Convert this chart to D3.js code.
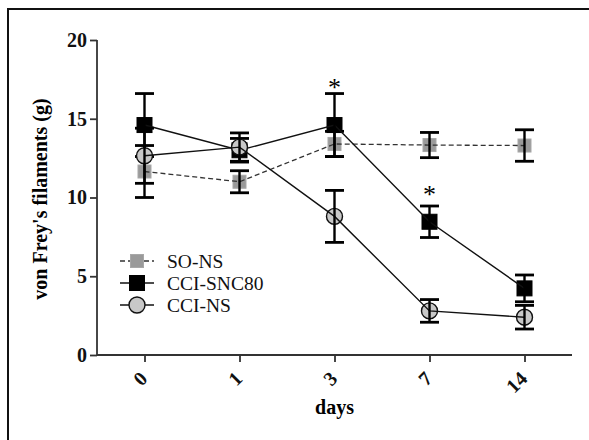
<!DOCTYPE html>
<html>
<head>
<meta charset="utf-8">
<script src="https://cdn.jsdelivr.net/npm/d3@7"></script>
<style>
  body { margin: 0; background: #fff; }
  text { font-family: "Liberation Serif", "Times New Roman", serif; }
</style>
</head>
<body>
<div id="chart"></div>
<script>
const width = 589;
const height = 440;

// data
const days = ["0", "1", "3", "7", "14"];
const soNS = [11.65, 11.0, 13.4, 13.33, 13.3];
const soNSErr = [1.65, 0.7, 0.8, 0.8, 1.0];
const cciSNC80 = [14.6, 13.0, 14.6, 8.46, 4.23];
const cciSNC80Err = [2.0, 0.75, 2.0, 1.0, 0.85];
const cciNS = [12.65, 13.2, 8.8, 2.8, 2.4];
const cciNSErr = [1.75, 0.9, 1.65, 0.72, 0.75];
const yTicks = [0, 5, 10, 15, 20];
const stars = [{ day: "3", value: 17.3 }, { day: "7", value: 10.5 }];

const series = [
  { name: "SO-NS", values: soNS, err: soNSErr, shape: "square", fill: "#9a9a9a", size: 13, dash: "5,3", stroke: "#333", strokeW: 1.3 },
  { name: "CCI-SNC80", values: cciSNC80, err: cciSNC80Err, shape: "square", fill: "#000", size: 15, dash: null, stroke: "#111", strokeW: 1.4 },
  { name: "CCI-NS", values: cciNS, err: cciNSErr, shape: "circle", fill: "#c8c8c8", size: 8, dash: null, stroke: "#111", strokeW: 1.4 }
];

const svg = d3.select("#chart").append("svg")
  .attr("width", width)
  .attr("height", height);

svg.append("rect").attr("width", width).attr("height", height).attr("fill", "#fff");

// cropped frame (top and left edges only)
svg.append("line").attr("x1", 7).attr("x2", width).attr("y1", 9).attr("y2", 9)
  .attr("stroke", "#111").attr("stroke-width", 2);
svg.append("line").attr("x1", 8).attr("x2", 8).attr("y1", 8).attr("y2", height)
  .attr("stroke", "#111").attr("stroke-width", 2);

const x = d3.scalePoint().domain(days).range([97, 572]).padding(0.5);
const y = d3.scaleLinear().domain([0, 20]).range([355, 40]);

// axes
const axisColor = "#333";
const gy = svg.append("g").attr("transform", "translate(97,0)")
  .call(d3.axisLeft(y).tickValues(yTicks).tickSize(7).tickSizeOuter(0).tickPadding(3));
const gx = svg.append("g").attr("transform", "translate(0,355)")
  .call(d3.axisBottom(x).tickSize(7).tickSizeOuter(0).tickFormat(""));

[gy, gx].forEach(g => {
  g.select(".domain").attr("stroke", axisColor).attr("stroke-width", 1.8);
  g.selectAll(".tick line").attr("stroke", axisColor).attr("stroke-width", 1.8);
});
gy.select(".domain").attr("d", "M0,40V355");
gx.select(".domain").attr("d", "M97,0H572");

gy.selectAll(".tick text")
  .attr("fill", "#111")
  .style("font-family", "Liberation Serif")
  .style("font-size", "20px")
  .style("font-weight", "bold");

// rotated x tick labels
svg.append("g").selectAll("text").data(days).enter().append("text")
  .attr("transform", d => `translate(${x(d) + 4},380) rotate(-45)`)
  .attr("text-anchor", "end")
  .style("font-size", "20px")
  .style("font-weight", "bold")
  .attr("fill", "#111")
  .text(d => d);

svg.append("text")
  .attr("x", x("3")).attr("y", 414)
  .attr("text-anchor", "middle")
  .style("font-size", "20px").style("font-weight", "bold")
  .text("days");

svg.append("text")
  .attr("transform", "translate(47,199) rotate(-90)")
  .attr("text-anchor", "middle")
  .style("font-size", "20px").style("font-weight", "bold")
  .text("von Frey's filaments (g)");

function drawMarker(g, s, cx, cy) {
  if (s.shape === "square") {
    g.append("rect")
      .attr("x", cx - s.size / 2).attr("y", cy - s.size / 2)
      .attr("width", s.size).attr("height", s.size)
      .attr("fill", s.fill)
      .attr("stroke", s.name === "SO-NS" ? "#a8a8a8" : "#000")
      .attr("stroke-width", 1);
  } else {
    g.append("circle")
      .attr("cx", cx).attr("cy", cy).attr("r", s.size)
      .attr("fill", s.fill).attr("stroke", "#111").attr("stroke-width", 1.4);
  }
}

const line = d3.line().x((d, i) => x(days[i])).y(d => y(d));

series.forEach(s => {
  const g = svg.append("g");
  // markers
  s.values.forEach((v, i) => drawMarker(g, s, x(days[i]), y(v)));
  // connecting line
  g.append("path")
    .datum(s.values)
    .attr("d", line)
    .attr("fill", "none")
    .attr("stroke", s.stroke)
    .attr("stroke-width", s.strokeW)
    .attr("stroke-dasharray", s.dash);
  // error bars
  s.values.forEach((v, i) => {
    const cx = x(days[i]);
    const top = y(v + s.err[i]);
    const bot = y(v - s.err[i]);
    g.append("line").attr("x1", cx).attr("x2", cx).attr("y1", top).attr("y2", bot)
      .attr("stroke", "#000").attr("stroke-width", 2.4);
    [top, bot].forEach(cy => {
      g.append("line").attr("x1", cx - 9.5).attr("x2", cx + 9.5).attr("y1", cy).attr("y2", cy)
        .attr("stroke", "#000").attr("stroke-width", 2.8);
    });
  });
});

// significance stars
svg.append("g").selectAll("text").data(stars).enter().append("text")
  .attr("x", d => x(d.day))
  .attr("y", d => y(d.value) + 13)
  .attr("text-anchor", "middle")
  .style("font-size", "26px")
  .text("*");

// legend
const legendY = [261, 283, 305];
const legend = svg.append("g");
series.forEach((s, i) => {
  const ly = legendY[i];
  legend.append("line").attr("x1", 120).attr("x2", 154).attr("y1", ly).attr("y2", ly)
    .attr("stroke", s.stroke).attr("stroke-width", s.strokeW)
    .attr("stroke-dasharray", s.dash);
  drawMarker(legend, s, 137, ly);
  legend.append("text")
    .attr("x", 167).attr("y", ly)
    .attr("dy", "0.35em")
    .style("font-size", "19.5px")
    .attr("fill", "#111")
    .text(s.name);
});
</script>
</body>
</html>
